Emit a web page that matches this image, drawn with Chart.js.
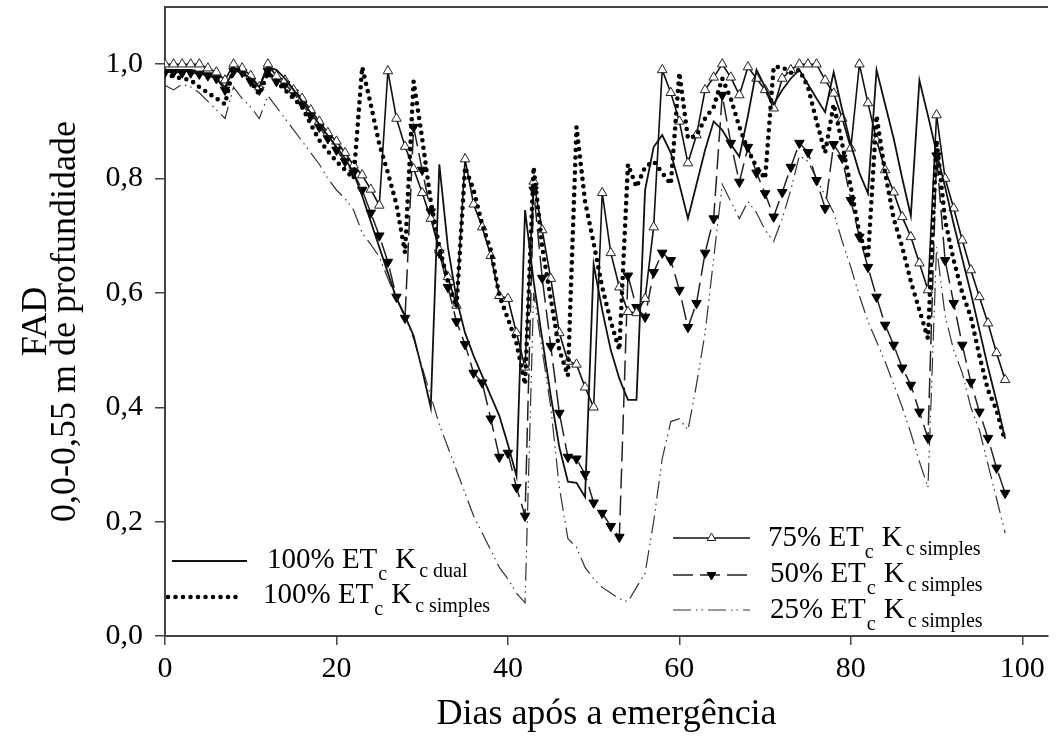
<!DOCTYPE html>
<html>
<head>
<meta charset="utf-8">
<script src="https://cdn.jsdelivr.net/npm/chart.js@4.4.1/dist/chart.umd.min.js"></script>
<style>
  html, body { margin: 0; padding: 0; background: #fff; }
  #wrap { width: 1059px; height: 744px; }
</style>
</head>
<body>
<div id="wrap"><canvas id="fadChart"></canvas></div>
<script>
// Dias após a emergência
const days = [0,1,2,3,4,5,6,7,8,9,10,11,12,13,14,15,16,17,18,19,20,21,22,23,24,25,26,27,28,29,
  30,31,32,33,34,35,36,37,38,39,40,41,42,43,44,45,46,47,48,49,50,51,52,53,54,55,56,57,58,59,
  60,61,62,63,64,65,66,67,68,69,70,71,72,73,74,75,76,77,78,79,80,81,82,83,84,85,86,87,88,89,
  90,91,92,93,94,95,96,97,98];

// FAD por tratamento
const fad100Dual = [0.99,0.99,0.99,0.99,0.985,0.98,0.975,0.96,0.99,0.985,0.975,0.96,0.995,0.99,0.975,
  0.955,0.935,0.915,0.895,0.875,0.855,0.835,0.81,0.77,0.725,0.68,0.635,0.59,0.56,0.525,
  0.465,0.40,0.825,0.68,0.59,0.53,0.49,0.455,0.42,0.385,0.335,0.28,0.745,0.62,0.52,
  0.42,0.33,0.27,0.268,0.243,0.65,0.57,0.50,0.45,0.413,0.413,0.78,0.855,0.876,0.845,
  0.79,0.73,0.79,0.85,0.90,0.885,0.86,0.838,0.91,0.99,0.96,0.93,0.955,0.975,0.99,
  0.965,0.94,0.916,0.986,0.92,0.86,0.81,0.774,0.99,0.93,0.87,0.80,0.735,0.972,0.91,
  0.845,0.785,0.72,0.66,0.60,0.535,0.47,0.41,0.345];

const fad100Simples = [0.985,0.978,0.975,0.972,0.96,0.95,0.94,0.93,0.995,0.986,0.97,0.947,0.985,0.97,0.955,
  0.94,0.925,0.895,0.867,0.848,0.83,0.815,0.80,0.995,0.93,0.86,0.81,0.755,0.67,0.97,
  0.87,0.76,0.68,0.62,0.575,0.82,0.78,0.72,0.675,0.595,0.555,0.512,0.44,0.82,0.68,
  0.59,0.50,0.455,0.89,0.76,0.687,0.61,0.55,0.50,0.825,0.785,0.82,0.83,0.81,0.79,
  0.985,0.87,0.875,0.905,0.925,0.975,0.94,0.89,0.85,0.82,0.80,0.995,0.995,0.985,0.99,
  0.96,0.90,0.845,0.93,0.86,0.785,0.705,0.66,0.91,0.81,0.73,0.68,0.62,0.57,0.52,
  0.867,0.727,0.657,0.60,0.558,0.49,0.43,0.395,0.34];

const fad75Simples = [1.0,1.0,1.0,1.0,1.0,0.993,0.986,0.972,1.0,0.993,0.98,0.96,1.0,0.979,0.972,
  0.955,0.94,0.92,0.90,0.88,0.865,0.845,0.823,0.806,0.781,0.753,0.988,0.905,0.856,0.817,
  0.775,0.73,0.675,0.628,0.578,0.834,0.755,0.715,0.665,0.595,0.59,0.53,0.47,0.795,0.71,
  0.625,0.53,0.48,0.475,0.435,0.40,0.775,0.67,0.61,0.567,0.565,0.59,0.715,0.99,0.95,
  0.90,0.827,0.876,0.955,0.977,1.0,0.977,0.946,0.995,0.975,0.955,0.923,0.975,0.99,1.0,
  1.0,1.0,0.972,0.949,0.905,0.853,1.0,0.932,0.867,0.815,0.776,0.733,0.698,0.652,0.605,
  0.911,0.80,0.748,0.692,0.64,0.593,0.547,0.495,0.448];

const fad50Simples = [0.986,0.986,0.985,0.985,0.983,0.98,0.975,0.955,0.988,0.986,0.97,0.955,0.988,0.97,0.965,
  0.95,0.93,0.91,0.89,0.87,0.85,0.83,0.81,0.78,0.74,0.70,0.654,0.593,0.556,0.89,
  0.815,0.742,0.67,0.61,0.55,0.51,0.46,0.443,0.38,0.313,0.32,0.26,0.21,0.78,0.626,
  0.507,0.39,0.313,0.31,0.283,0.233,0.215,0.192,0.173,0.63,0.575,0.558,0.636,0.67,0.657,
  0.605,0.54,0.582,0.67,0.73,0.946,0.862,0.794,0.855,0.81,0.774,0.733,0.776,0.82,0.862,
  0.846,0.797,0.748,0.86,0.836,0.762,0.698,0.645,0.593,0.544,0.509,0.469,0.439,0.392,0.346,
  0.84,0.657,0.582,0.509,0.444,0.392,0.346,0.294,0.25];

const fad25Simples = [0.963,0.955,0.965,0.96,0.95,0.935,0.92,0.905,0.96,0.94,0.925,0.905,0.945,0.925,0.905,
  0.885,0.865,0.845,0.825,0.80,0.78,0.765,0.745,0.705,0.685,0.663,0.625,0.59,0.56,0.52,
  0.47,0.42,0.37,0.33,0.29,0.25,0.21,0.18,0.15,0.12,0.10,0.075,0.058,0.60,0.50,
  0.40,0.26,0.17,0.155,0.12,0.10,0.085,0.075,0.065,0.06,0.085,0.11,0.20,0.31,0.375,
  0.38,0.36,0.44,0.53,0.66,0.79,0.76,0.73,0.76,0.74,0.71,0.69,0.73,0.78,0.84,
  0.83,0.80,0.77,0.74,0.69,0.645,0.595,0.55,0.515,0.48,0.44,0.40,0.355,0.305,0.26,
  0.68,0.56,0.50,0.46,0.40,0.36,0.30,0.24,0.18];

const seriesLabels = ['100% ET', '100% ET', '75% ET', '50% ET', '25% ET'];
const seriesSubs = ['c dual', 'c simples', 'c simples', 'c simples', 'c simples'];
const yTitle = ['FAD', '0,0-0,55 m de profundidade'];
const xTitle = 'Dias após a emergência';

const serif = "'Liberation Serif', 'Times New Roman', serif";

function pts(vals) {
  return days.map((d, i) => ({ x: d, y: vals[i] }));
}

// legenda desenhada dentro da área do gráfico
const legendRows = [
  { ds: 0, x0: 172, x1: 247, y: 561, tx: 267, ty: 568 },
  { ds: 1, x0: 168, x1: 240, y: 597, tx: 263, ty: 603 },
  { ds: 2, x0: 673, x1: 750, y: 538, tx: 768, ty: 546 },
  { ds: 3, x0: 673, x1: 750, y: 575, tx: 770, ty: 582 },
  { ds: 4, x0: 673, x1: 750, y: 610, tx: 770, ty: 618 }
];

const frameAndLegend = {
  id: 'frameAndLegend',
  afterDraw(chart) {
    const { ctx, chartArea } = chart;
    ctx.save();
    // linha superior do quadro
    ctx.strokeStyle = '#444';
    ctx.lineWidth = 2;
    ctx.beginPath();
    ctx.moveTo(chartArea.left, chartArea.top);
    ctx.lineTo(chartArea.right, chartArea.top);
    ctx.stroke();

    legendRows.forEach(row => {
      const ds = chart.data.datasets[row.ds];
      ctx.save();
      ctx.strokeStyle = ds.borderColor;
      ctx.lineWidth = ds.borderWidth;
      ctx.setLineDash(ds.borderDash || []);
      ctx.lineCap = ds.borderCapStyle || 'butt';
      ctx.beginPath();
      ctx.moveTo(row.x0, row.y);
      ctx.lineTo(row.x1, row.y);
      ctx.stroke();
      ctx.setLineDash([]);
      if (ds.pointRadius > 0) {
        ctx.fillStyle = ds.pointBackgroundColor;
        ctx.strokeStyle = ds.pointBorderColor;
        ctx.lineWidth = ds.pointBorderWidth;
        Chart.helpers.drawPoint(ctx, {
          pointStyle: ds.pointStyle,
          rotation: ds.pointRotation || 0,
          radius: 5,
          borderWidth: ds.pointBorderWidth
        }, (row.x0 + row.x1) / 2, row.y);
      }
      ctx.restore();

      ctx.fillStyle = '#000';
      ctx.textBaseline = 'alphabetic';
      let x = row.tx;
      ctx.font = '29px ' + serif;
      ctx.fillText(seriesLabels[row.ds], x, row.ty);
      x += ctx.measureText(seriesLabels[row.ds]).width;
      ctx.font = '20px ' + serif;
      ctx.fillText('c', x + 1, row.ty + 12);
      x += ctx.measureText('c').width + 9;
      ctx.font = '29px ' + serif;
      ctx.fillText('K', x, row.ty);
      x += ctx.measureText('K').width + 3;
      ctx.font = '20px ' + serif;
      ctx.fillText(seriesSubs[row.ds], x, row.ty + 9);
    });
    ctx.restore();
  }
};

new Chart(document.getElementById('fadChart'), {
  type: 'line',
  data: {
    datasets: [
      {
        label: '100% ETc Kc dual',
        data: pts(fad100Dual),
        borderColor: '#111',
        borderWidth: 1.8,
        pointRadius: 0,
        tension: 0
      },
      {
        label: '100% ETc Kc simples',
        data: pts(fad100Simples),
        borderColor: '#000',
        borderWidth: 4.6,
        borderDash: [0, 7.5],
        borderCapStyle: 'round',
        borderJoinStyle: 'round',
        pointRadius: 0,
        tension: 0
      },
      {
        label: '75% ETc Kc simples',
        data: pts(fad75Simples),
        borderColor: '#111',
        borderWidth: 1.6,
        pointStyle: 'triangle',
        pointRadius: 5.5,
        pointBackgroundColor: '#fff',
        pointBorderColor: '#222',
        pointBorderWidth: 1,
        tension: 0
      },
      {
        label: '50% ETc Kc simples',
        data: pts(fad50Simples),
        borderColor: '#222',
        borderWidth: 1.5,
        borderDash: [20, 7],
        pointStyle: 'triangle',
        pointRotation: 180,
        pointRadius: 5.5,
        pointBackgroundColor: '#000',
        pointBorderColor: '#000',
        pointBorderWidth: 1,
        tension: 0
      },
      {
        label: '25% ETc Kc simples',
        data: pts(fad25Simples),
        borderColor: '#333',
        borderWidth: 1.2,
        borderDash: [18, 5, 1.5, 4, 1.5, 5],
        pointRadius: 0,
        tension: 0
      }
    ]
  },
  options: {
    responsive: true,
    maintainAspectRatio: false,
    animation: false,
    devicePixelRatio: 1,
    layout: { padding: { top: 7, right: 11, left: 0, bottom: 0 } },
    plugins: {
      legend: { display: false },
      tooltip: { enabled: false }
    },
    scales: {
      x: {
        type: 'linear',
        min: 0,
        max: 103,
        border: { display: true, color: '#444', width: 2 },
        grid: { drawOnChartArea: false, drawTicks: true, tickLength: 9, color: '#444', lineWidth: 1.5 },
        ticks: {
          stepSize: 20,
          includeBounds: false,
          maxRotation: 0,
          color: '#000',
          padding: 6,
          font: { family: serif, size: 30 }
        },
        title: {
          display: true,
          text: xTitle,
          color: '#000',
          font: { family: serif, size: 36 },
          padding: { top: 0, bottom: 8 }
        },
        afterFit(scale) {
          scale.height = 108;
          scale.paddingLeft = 0;
          scale.paddingRight = 0;
        }
      },
      y: {
        min: 0,
        max: 1.1,
        border: { display: true, color: '#444', width: 2 },
        grid: { drawOnChartArea: false, drawTicks: true, tickLength: 10, color: '#444', lineWidth: 1.5 },
        ticks: {
          stepSize: 0.2,
          includeBounds: false,
          color: '#000',
          padding: 12,
          font: { family: serif, size: 30 },
          callback: v => v.toFixed(1).replace('.', ',')
        },
        title: {
          display: true,
          text: yTitle,
          color: '#000',
          font: { family: serif, size: 36, lineHeight: 0.8 },
          padding: { top: 22, bottom: 0 }
        },
        afterFit(scale) {
          scale.width = 165;
          scale.paddingTop = 0;
          scale.paddingBottom = 0;
        }
      }
    }
  },
  plugins: [frameAndLegend]
});
</script>
</body>
</html>
